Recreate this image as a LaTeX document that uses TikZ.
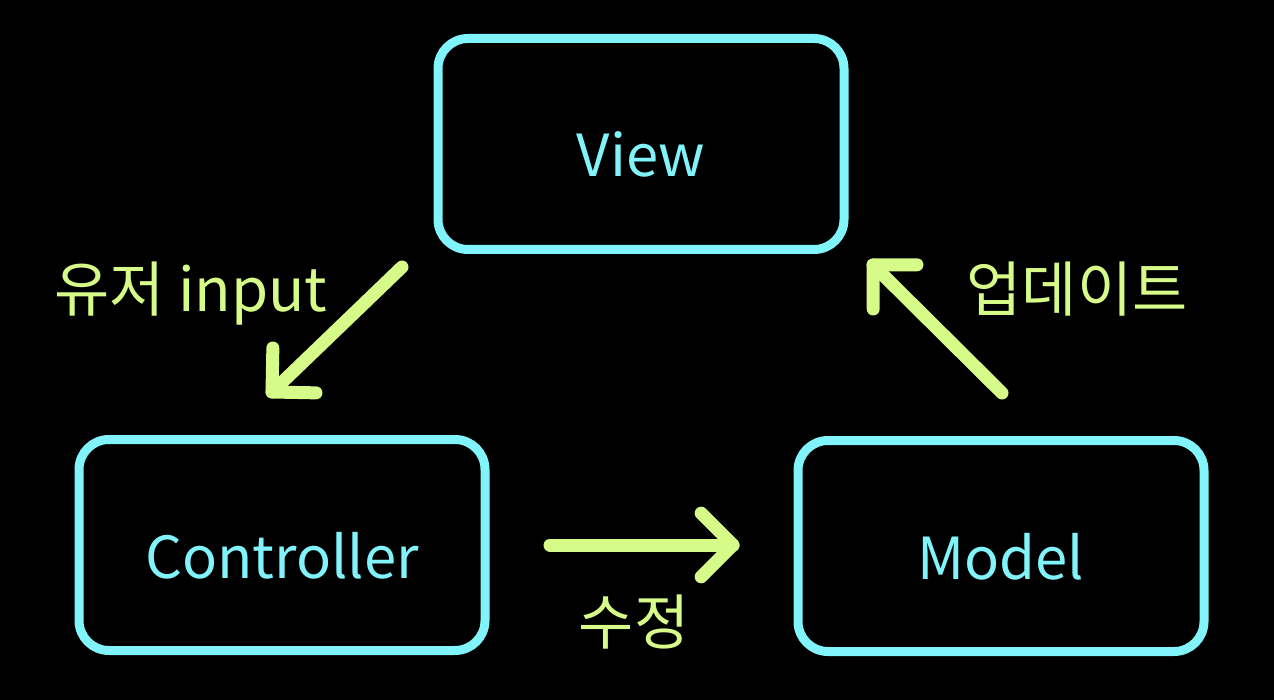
\documentclass[tikz,border=0pt]{standalone}
\usepackage{fontspec}
\setmainfont{Noto Sans CJK KR}
\usetikzlibrary{calc}
\definecolor{cy}{HTML}{80F4FA}
\definecolor{yg}{HTML}{D6FB88}
\begin{document}
\begin{tikzpicture}[x=1pt,y=-1pt,
  box/.style={draw=cy, line width=9pt, rounded corners=30pt, minimum width=406pt, minimum height=211pt, inner sep=0pt, text=cy, font=\fontsize{58}{70}\selectfont, text height=66pt, text depth=0pt},
  lbl/.style={text=yg, font=\fontsize{60}{72}\selectfont, anchor=base, inner sep=0pt},
  arr/.style={draw=yg, line width=13pt, line cap=round, line join=round}]
\fill[black] (0,0) rectangle (1274,700);
\useasboundingbox (0,0) rectangle (1274,700);
\node[box] (view) at (641,144) {View};
\node[box] (ctrl) at (282,545) {Controller};
\node[box] (model) at (1001,546) {Model};
% arrows
\coordinate (l1) at (402,267); \coordinate (l2) at (272,392);
\coordinate (r1) at (1002,393); \coordinate (r2) at (873,265);
\coordinate (b1) at (550,545); \coordinate (b2) at (733,545);
\draw[arr] (l1) -- (l2);
\draw[arr] ($(l2)!44pt!45:(l1)$) -- (l2) -- ($(l2)!44pt!-45:(l1)$);
\draw[arr] (r1) -- (r2);
\draw[arr] ($(r2)!44pt!45:(r1)$) -- (r2) -- ($(r2)!44pt!-45:(r1)$);
\draw[arr] (b1) -- (b2);
\draw[arr] ($(b2)!45pt!45:(b1)$) -- (b2) -- ($(b2)!45pt!-45:(b1)$);
% labels
\node[lbl] (lin) at (191,312) {유저 input};
\node[lbl] (lup) at (1077,312) {업데이트};
\node[lbl] (lmod) at (634,644) {수정};
\end{tikzpicture}
\end{document}
